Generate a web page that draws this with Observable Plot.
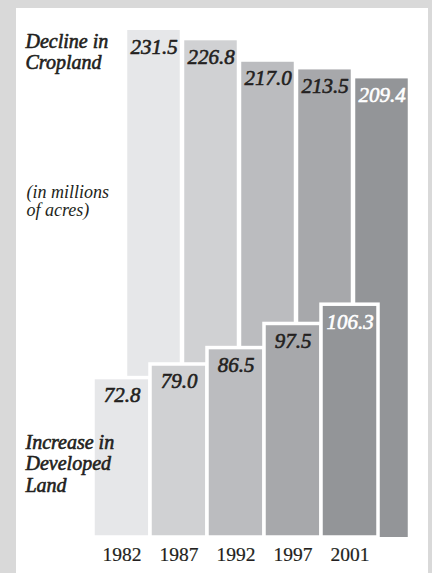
<!DOCTYPE html>
<html>
<head>
<meta charset="utf-8">
<script src="https://cdn.jsdelivr.net/npm/d3@7"></script>
<script src="https://cdn.jsdelivr.net/npm/@observablehq/plot@0.6"></script>
<style>
  html, body { margin: 0; padding: 0; background: #d9d9d9; }
  body { width: 432px; height: 573px; overflow: hidden; position: relative; }
  #chart { position: absolute; left: 16px; top: 8px; width: 412px; height: 565px; background: #ffffff; }
  #chart svg { display: block; }
</style>
</head>
<body>
<div id="chart"></div>
<script>
const years = ["1982", "1987", "1992", "1997", "2001"];
const cropland = [231.5, 226.8, 217.0, 213.5, 209.4];
const developed = [72.8, 79.0, 86.5, 97.5, 106.3];
const shades = ["#e6e7e9", "#d0d1d3", "#bbbcbf", "#a7a8ab", "#939598"];

const data = years.map((year, i) => ({year, cropland: cropland[i], developed: developed[i]}));
const ink = "#231f20";
const font = "Liberation Serif";
const labelColor = d => d.year === "2001" ? "#ffffff" : ink;

const chart = Plot.plot({
  width: 412,
  height: 565,
  marginTop: 0, marginRight: 0, marginBottom: 0, marginLeft: 0,
  style: {fontFamily: font, background: "transparent", overflow: "visible"},
  x: {type: "band", domain: years, range: [76, 363.5], padding: 0, axis: null},
  y: {domain: [0, 240], range: [529, 3.4], axis: null},
  color: {type: "ordinal", domain: years, range: shades},
  marks: [
    // Back bars: decline in cropland
    Plot.barY(data, {x: "year", y: "cropland", fill: "year", dx: 32, insetLeft: 2.25, insetRight: 2.25}),
    Plot.text(data, {
      x: "year", y: "cropland", text: d => d.cropland.toFixed(1), dx: 32, dy: 23,
      lineAnchor: "bottom", fontSize: 21, fontStyle: "italic",
      fill: labelColor, stroke: labelColor, strokeWidth: 0.6, paintOrder: "fill"
    }),
    // Front bars: increase in developed land
    Plot.barY(data, {x: "year", y: "developed", fill: "year", stroke: "#ffffff", strokeWidth: 3.5}),
    Plot.text(data, {
      x: "year", y: "developed", text: d => d.developed.toFixed(1), dy: 24,
      lineAnchor: "bottom", fontSize: 21, fontStyle: "italic",
      fill: labelColor, stroke: labelColor, strokeWidth: 0.6, paintOrder: "fill"
    }),
    // Year labels
    Plot.text(data, {x: "year", y: 0, text: "year", dy: 23, lineAnchor: "bottom", fontSize: 19.5, fill: ink, stroke: ink, strokeWidth: 0.2, paintOrder: "fill"}),
    // Side annotations
    Plot.text(["Decline in\nCropland"], {
      frameAnchor: "top-left", textAnchor: "start", lineAnchor: "top", dx: 9, dy: 24,
      fontSize: 20, fontStyle: "italic", lineHeight: 1.06, fill: ink,
      stroke: ink, strokeWidth: 0.6, paintOrder: "fill"
    }),
    Plot.text(["(in millions\nof acres)"], {
      frameAnchor: "top-left", textAnchor: "start", lineAnchor: "top", dx: 10, dy: 177,
      fontSize: 18, fontStyle: "italic", lineHeight: 1.0, fill: ink
    }),
    Plot.text(["Increase in\nDeveloped\nLand"], {
      frameAnchor: "top-left", textAnchor: "start", lineAnchor: "top", dx: 9, dy: 425,
      fontSize: 20, fontStyle: "italic", lineHeight: 1.08, fill: ink,
      stroke: ink, strokeWidth: 0.6, paintOrder: "fill"
    })
  ]
});
document.getElementById("chart").appendChild(chart);
</script>
</body>
</html>
